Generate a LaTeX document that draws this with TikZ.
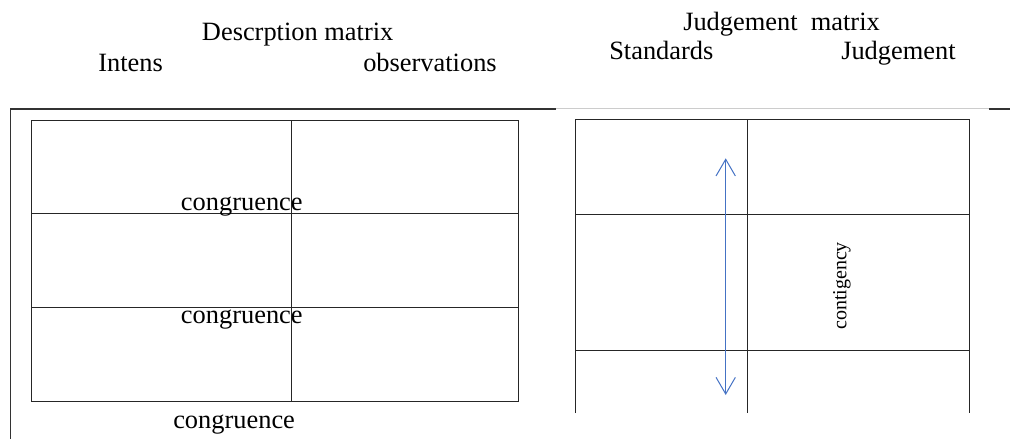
\documentclass[tikz,border=0pt]{standalone}
\usepackage{fontspec}
\setmainfont{Liberation Serif}
\usetikzlibrary{arrows.meta}
\definecolor{arrblue}{RGB}{68,114,196}
\begin{document}
\begin{tikzpicture}[x=0.75pt,y=-0.75pt,
  lbl/.style={inner sep=0pt, anchor=base west, font=\fontsize{19.8}{24}\selectfont},
  gridline/.style={draw=black!85, line width=0.75pt},
  frameline/.style={draw=black!80, line width=0.9pt},
  faint/.style={draw=black!20, line width=0.75pt},
  arr/.style={draw=arrblue, line width=0.75pt, {Straight Barb[length=12.5pt,width=14.5pt]}-{Straight Barb[length=12.5pt,width=14.5pt]}}]
\useasboundingbox (0,0) rectangle (1010,439);

% titles
\node[lbl] (dtitle) at (201.7,40) {Descrption matrix};
\node[lbl] (intens) at (98,71) {Intens};
\node[lbl] (obs) at (363,71) {observations};
\node[lbl] (jtitle) at (683,30) {Judgement\ \ matrix};
\node[lbl] (std) at (609,59) {Standards};
\node[lbl] (judg) at (841,59) {Judgement};

% frame lines
\draw[frameline] (556,109) -- (10.7,109) -- (10.7,439);
\draw[faint] (556,108) -- (989,108);
\draw[frameline] (989,109) -- (1010,109);

% left matrix
\draw[gridline] (31,120.5) rectangle (518.5,401);
\draw[gridline] (31,213) -- (518.5,213);
\draw[gridline] (31,307) -- (518.5,307);
\draw[gridline] (291.5,120.5) -- (291.5,401);

% right matrix
\draw[gridline] (575.7,413) -- (575.7,119.3) -- (969,119.3) -- (969,413);
\draw[gridline] (747.7,119.3) -- (747.7,413);
\draw[gridline] (575.7,214) -- (969,214);
\draw[gridline] (575.7,350.7) -- (969,350.7);

% labels
\node[lbl] (cong1) at (180.7,210.7) {congruence};
\node[lbl] (cong2) at (180.7,323) {congruence};
\node[lbl] (cong3) at (173,428) {congruence};
\node[rotate=90, inner sep=0pt, font=\fontsize{15}{18}\selectfont] (cont) at (842,286) {contigency};

% arrow
\coordinate (atop) at (725.7,158.3);
\coordinate (abot) at (725.7,395);
\draw[arr] (abot) -- (atop);
\end{tikzpicture}
\end{document}
